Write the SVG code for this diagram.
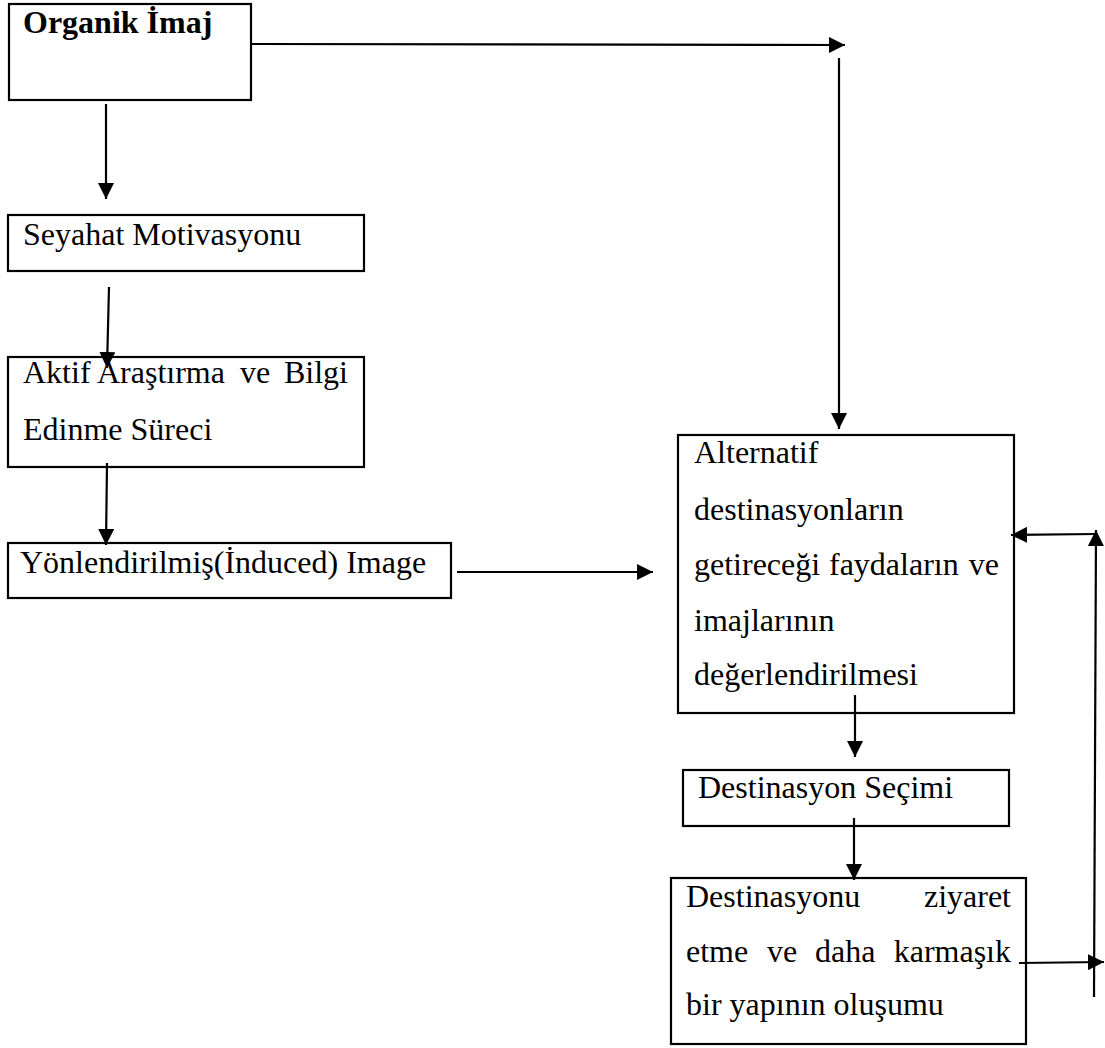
<svg xmlns="http://www.w3.org/2000/svg" width="1105" height="1048" viewBox="0 0 1105 1048">
  <style>
    .box { fill: #ffffff; stroke: #000000; stroke-width: 2.2; }
    .lbl { font-family: "Liberation Serif", "Times New Roman", serif; font-size: 32px; fill: #000000; }
    .bold { font-weight: bold; }
    .edge { fill: none; stroke: #000000; stroke-width: 2.2; }
  </style>
  <defs>
    <marker id="arrow" markerUnits="userSpaceOnUse" markerWidth="16" markerHeight="16" viewBox="0 0 16 16" refX="16" refY="8" orient="auto">
      <path d="M0,0 L16,8 L0,16 Z" fill="#000000"/>
    </marker>
  </defs>
  <rect width="1105" height="1048" fill="#ffffff"/>

  <g id="node-organik">
    <rect class="box" x="9" y="4" width="242" height="96"/>
    <text class="lbl bold" x="23" y="33">Organik İmaj</text>
  </g>

  <g id="node-seyahat">
    <rect class="box" x="8" y="215" width="356" height="56"/>
    <text class="lbl" x="23" y="245">Seyahat Motivasyonu</text>
  </g>

  <g id="node-aktif">
    <rect class="box" x="8" y="357" width="356" height="110"/>
    <text class="lbl" y="383"><tspan x="23">Aktif</tspan><tspan x="97">Araştırma</tspan><tspan x="240">ve</tspan><tspan x="348" text-anchor="end">Bilgi</tspan></text>
    <text class="lbl" x="23" y="440">Edinme Süreci</text>
  </g>

  <g id="node-induced">
    <rect class="box" x="8" y="543" width="443" height="55"/>
    <text class="lbl" x="20" y="573">Yönlendirilmiş(İnduced) Image</text>
  </g>

  <g id="node-alternatif">
    <rect class="box" x="678" y="435" width="336" height="278"/>
    <text class="lbl" x="694" y="463">Alternatif</text>
    <text class="lbl" x="694" y="520">destinasyonların</text>
    <text class="lbl" y="575"><tspan x="694">getireceği</tspan><tspan x="829">faydaların</tspan><tspan x="999" text-anchor="end">ve</tspan></text>
    <text class="lbl" x="694" y="631">imajlarının</text>
    <text class="lbl" x="694" y="685">değerlendirilmesi</text>
  </g>

  <g id="node-secim">
    <rect class="box" x="683" y="770" width="326" height="56"/>
    <text class="lbl" x="698" y="798">Destinasyon Seçimi</text>
  </g>

  <g id="node-ziyaret">
    <rect class="box" x="671" y="878" width="355" height="166"/>
    <text class="lbl" y="907"><tspan x="686">Destinasyonu</tspan><tspan x="1011" text-anchor="end">ziyaret</tspan></text>
    <text class="lbl" y="962"><tspan x="686">etme</tspan><tspan x="767">ve</tspan><tspan x="815">daha</tspan><tspan x="1011" text-anchor="end">karmaşık</tspan></text>
    <text class="lbl" x="686" y="1015">bir yapının oluşumu</text>
  </g>

  <g id="connectors">
    <line class="edge" x1="251" y1="44" x2="845" y2="45" marker-end="url(#arrow)"/>
    <line class="edge" x1="839" y1="58" x2="839" y2="429" marker-end="url(#arrow)"/>
    <line class="edge" x1="106" y1="104" x2="106" y2="199" marker-end="url(#arrow)"/>
    <line class="edge" x1="109" y1="287" x2="107" y2="368" marker-end="url(#arrow)"/>
    <line class="edge" x1="107" y1="463" x2="106" y2="545" marker-end="url(#arrow)"/>
    <line class="edge" x1="457" y1="572" x2="653" y2="572" marker-end="url(#arrow)"/>
    <line class="edge" x1="855" y1="695" x2="855" y2="757" marker-end="url(#arrow)"/>
    <line class="edge" x1="854" y1="818" x2="854" y2="880" marker-end="url(#arrow)"/>
    <line class="edge" x1="1019" y1="963" x2="1104" y2="962" marker-end="url(#arrow)"/>
    <line class="edge" x1="1094" y1="997" x2="1096" y2="530" marker-end="url(#arrow)"/>
    <line class="edge" x1="1096" y1="534" x2="1011" y2="535" marker-end="url(#arrow)"/>
  </g>
</svg>
